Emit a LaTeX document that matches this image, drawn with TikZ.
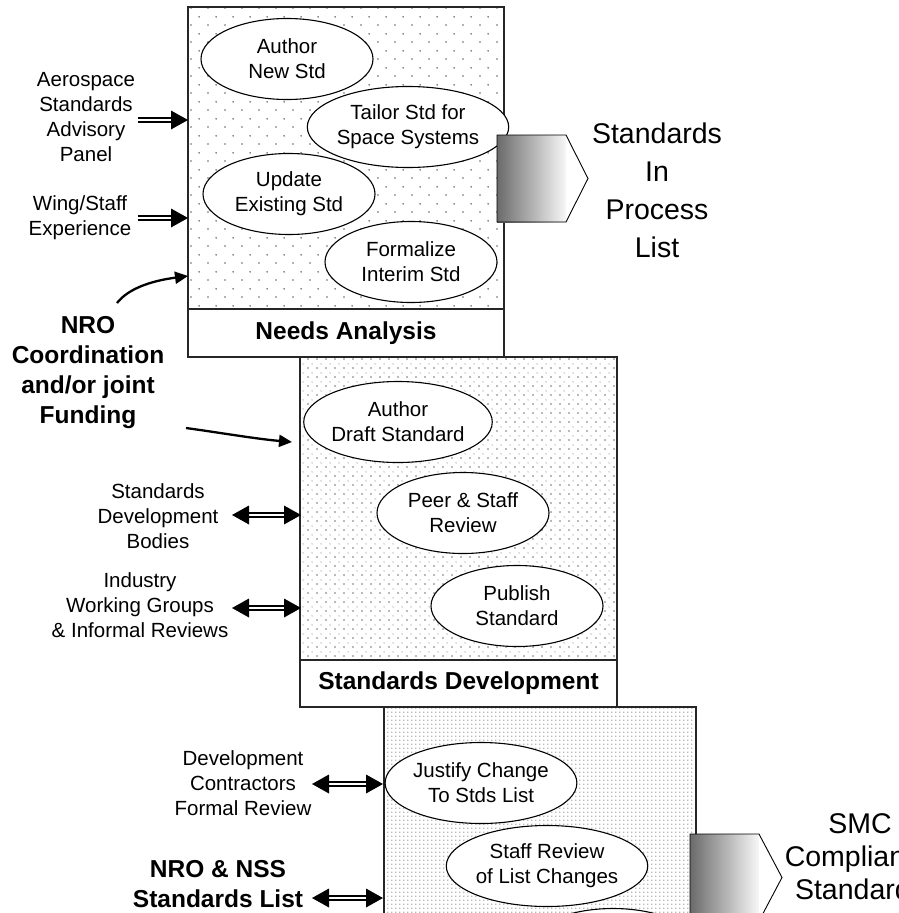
\documentclass[tikz,border=0pt]{standalone}
\usepackage{fontspec}
\setmainfont{Liberation Sans}
\usetikzlibrary{shapes.geometric,arrows.meta,patterns.meta,calc}

\tikzdeclarepattern{
  name=dotsA, type=uncolored,
  bounding box={(0pt,0pt) and (17pt,17pt)},
  tile size={(17pt,17pt)},
  code={\pgfpathcircle{\pgfpoint{4.25pt}{4.25pt}}{0.95pt}\pgfpathcircle{\pgfpoint{12.75pt}{12.75pt}}{0.95pt}\pgfusepath{fill}}
}
\tikzdeclarepattern{
  name=dotsB, type=uncolored,
  bounding box={(0pt,0pt) and (8.5pt,8.5pt)},
  tile size={(8.5pt,8.5pt)},
  code={\pgfpathcircle{\pgfpoint{2.1pt}{2.1pt}}{0.85pt}\pgfpathcircle{\pgfpoint{6.35pt}{6.35pt}}{0.55pt}\pgfusepath{fill}}
}
\tikzdeclarepattern{
  name=dotsC, type=uncolored,
  bounding box={(0pt,0pt) and (4.3pt,4.3pt)},
  tile size={(4.3pt,4.3pt)},
  code={\pgfpathcircle{\pgfpoint{2.15pt}{2.15pt}}{0.75pt}\pgfusepath{fill}}
}

\newcommand\fnorm{\fontsize{20.5}{25}\selectfont}
\newcommand\fbold{\fontsize{24.5}{30}\selectfont\bfseries}
\newcommand\fbig{\fontsize{28.5}{38}\selectfont}
\newcommand\fmid{\fontsize{28.5}{33}\selectfont}

\tikzset{
  boxframe/.style={draw=black!85, line width=1.4pt, anchor=north west, outer sep=0pt, inner sep=0pt},
  labbox/.style={boxframe, fill=white, font=\fbold},
  ell/.style={ellipse, draw, fill=white, line width=1.1pt, minimum width=172pt, minimum height=81pt, inner sep=0pt, align=center, font=\fnorm},
  lbl/.style={align=center, font=\fnorm, inner sep=0pt},
  blbl/.style={align=center, font=\fbold, inner sep=0pt},
  dblshaft/.style={draw=black, double=white, double distance=1.8pt, line width=2.4pt},
  headR/.pic={\fill (0,0) -- (-17,-9.5) -- (-17,9.5) -- cycle;},
  curvearr/.style={line width=2.3pt, -{Triangle[length=13pt,width=12pt]}},
  outshape/.style={draw=black, line width=0.9pt},
}

\begin{document}
\begin{tikzpicture}[x=1pt,y=-1pt]
\useasboundingbox (0,0) rectangle (899,913);

% ---------- boxes ----------
\node[boxframe, minimum width=312pt, minimum height=260pt, pattern=dotsC, pattern color=black!55] (box3) at (384,707) {};
\node[boxframe, minimum width=316pt, minimum height=302pt, pattern=dotsA, pattern color=black!60] (box1) at (188,7) {};
\node[labbox, minimum width=316pt, minimum height=48pt] (lab1) at (188,309) {Needs Analysis};
\node[boxframe, minimum width=317pt, minimum height=303pt, pattern=dotsB, pattern color=black!55] (box2) at (300,357) {};
\node[labbox, minimum width=317pt, minimum height=47pt] (lab2) at (300,660) {Standards Development};

% ---------- ellipses ----------
\node[ell] (e1) at (287,59) {Author\\New Std};
\node[ell] (e2) at (408,127) {Tailor Std for\\Space Systems};
\node[ell] (e3) at (289,194) {Update\\Existing Std};
\node[ell] (e4) at (411,262) {Formalize\\Interim Std};
\node[ell] (f1) at (398,422) {Author\\Draft Standard};
\node[ell] (f2) at (463,513) {Peer \& Staff\\Review};
\node[ell] (f3) at (517,606) {Publish\\Standard};
\node[ell] (g1) at (481,783) {Justify Change\\To Stds List};
\node[ell] (g2) at (547,866) {Staff Review\\of List Changes};
\node[ell] (g3) at (613,949) {};

% ---------- output arrows ----------
\shade[left color=black!58, right color=black!3] (497,135) rectangle (566,222);
\fill[white] (566,135) -- (588,178.5) -- (566,222) -- cycle;
\draw[outshape] (497,135) -- (566,135) -- (588,178.5) -- (566,222) -- (497,222) -- cycle;
\node[align=center, font=\fbig, inner sep=0pt] (out1) at (657,190) {Standards\\In\\Process\\List};

\shade[left color=black!58, right color=black!3] (690,834) rectangle (759,921);
\fill[white] (759,834) -- (782,877.5) -- (759,921) -- cycle;
\draw[outshape] (690,834) -- (759,834) -- (782,877.5) -- (759,921) -- (690,921) -- cycle;
\node[align=center, font=\fmid, inner sep=0pt] (out2) at (860,857) {SMC\\Compliance\\Standards};

% ---------- left labels ----------
\node[lbl] (t1) at (86,117) {Aerospace\\Standards\\Advisory\\Panel};
\node[lbl] (t2) at (80,218) {Wing/Staff\\Experience};
\node[blbl] (t3) at (88,373) {NRO\\Coordination\\and/or joint\\Funding};
\node[lbl] (t4) at (158,516) {Standards\\Development\\Bodies};
\node[lbl] (t5) at (140,605) {Industry\\Working Groups\\\& Informal Reviews};
\node[lbl] (t6) at (243,783) {Development\\Contractors\\Formal Review};
\node[blbl] (t7) at (218,884) {NRO \& NSS\\Standards List};

% ---------- connector end points ----------
\coordinate (a1-s) at (138,120); \coordinate (a1-t) at (188,120);
\coordinate (a2-s) at (138,218); \coordinate (a2-t) at (188,218);
\coordinate (c1-s) at (117,303); \coordinate (c1-t) at (188,276);
\coordinate (c2-s) at (186,428); \coordinate (c2-t) at (292,442);
\coordinate (d1-s) at (232,515); \coordinate (d1-t) at (301,515);
\coordinate (d2-s) at (232,608); \coordinate (d2-t) at (301,608);
\coordinate (d3-s) at (312,784); \coordinate (d3-t) at (383,784);
\coordinate (d4-s) at (312,898); \coordinate (d4-t) at (383,898);

% single-headed double arrows
\draw[dblshaft] (a1-s) -- ($(a1-t)+(-15,0)$); \pic at (a1-t) {headR};
\draw[dblshaft] (a2-s) -- ($(a2-t)+(-15,0)$); \pic at (a2-t) {headR};

% curved arrows
\draw[curvearr] (c1-s) .. controls (128,289) and (150,281) .. (c1-t);
\draw[curvearr] (c2-s) .. controls (222,433) and (257,439) .. (c2-t);

% double-headed double arrows
\foreach \n in {d1,d2,d3,d4}{
  \draw[dblshaft] ($(\n-s)+(15,0)$) -- ($(\n-t)+(-15,0)$);
  \pic at (\n-t) {headR};
  \pic[rotate=180] at (\n-s) {headR};
}
\end{tikzpicture}
\end{document}
